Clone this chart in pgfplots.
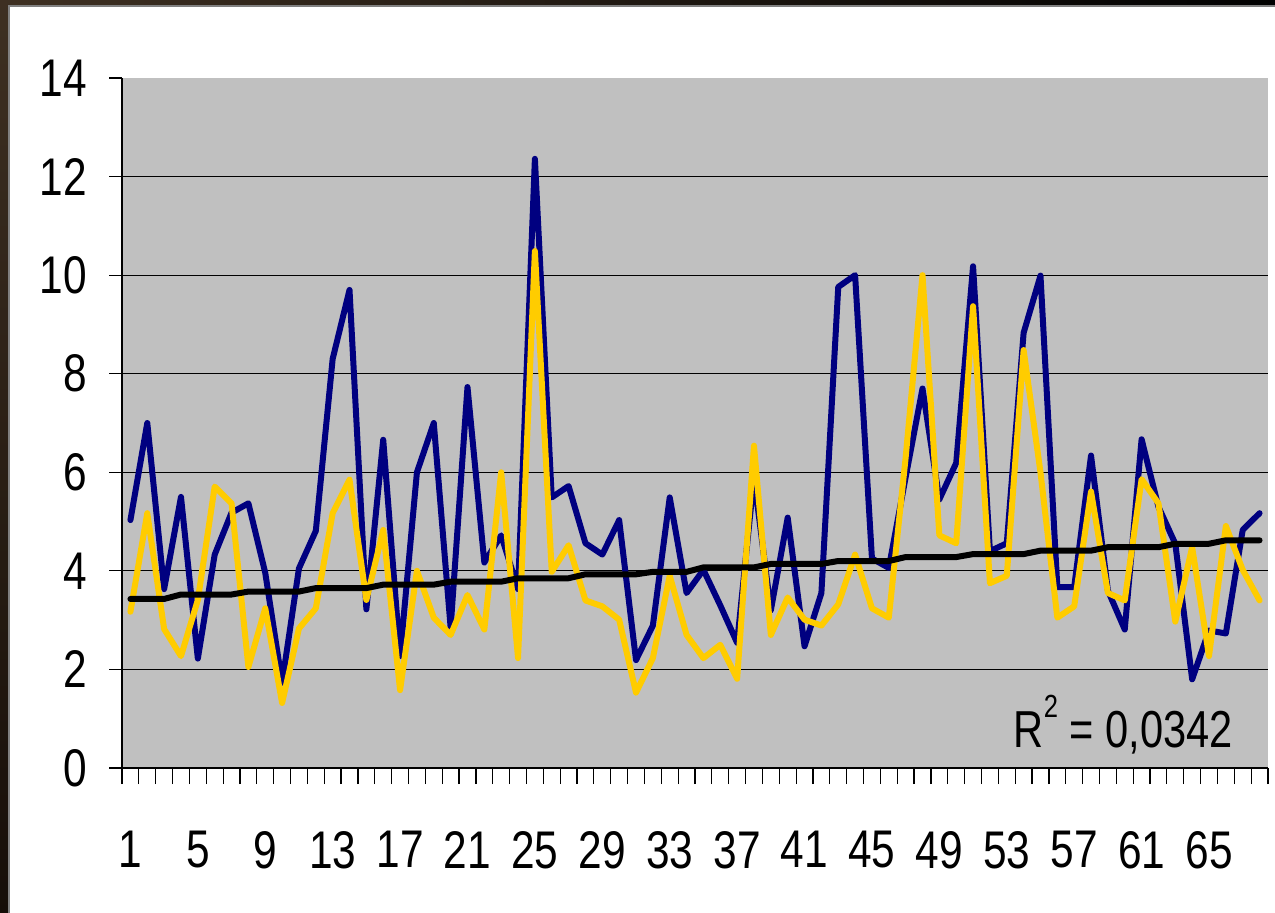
\documentclass[border=0pt]{standalone}
\usepackage{fontspec}
\setmainfont{Liberation Sans}[FakeStretch=0.8]
\usepackage{pgfplots}
\pgfplotsset{compat=1.18}
\usepackage{pgfplotstable}
\definecolor{navyline}{RGB}{0,0,128}
\definecolor{goldline}{RGB}{255,204,0}
\definecolor{plotgray}{RGB}{192,192,192}
\definecolor{framebrown}{RGB}{62,48,34}
\definecolor{framedark}{RGB}{22,14,8}

% x = category, blue / yellow series, stepped trend
\pgfplotstableread{
x blue yellow trend
1 5.03 3.17 3.43
2 7.00 5.17 3.43
3 3.63 2.82 3.43
4 5.50 2.27 3.52
5 2.22 3.41 3.52
6 4.33 5.71 3.52
7 5.18 5.37 3.52
8 5.37 2.05 3.58
9 3.96 3.24 3.58
10 1.73 1.32 3.58
11 4.05 2.83 3.58
12 4.81 3.24 3.65
13 8.30 5.17 3.65
14 9.70 5.85 3.65
15 3.22 3.41 3.65
16 6.66 4.83 3.72
17 2.27 1.58 3.72
18 6.00 4.00 3.72
19 7.00 3.05 3.72
20 2.85 2.70 3.78
21 7.73 3.51 3.78
22 4.17 2.81 3.78
23 4.72 6.00 3.78
24 3.63 2.23 3.85
25 12.36 10.49 3.85
26 5.49 3.98 3.85
27 5.72 4.52 3.85
28 4.56 3.40 3.93
29 4.33 3.28 3.93
30 5.03 3.01 3.93
31 2.19 1.53 3.93
32 2.89 2.23 3.98
33 5.49 3.90 3.98
34 3.55 2.70 3.98
35 4.02 2.23 4.07
36 3.30 2.50 4.07
37 2.54 1.81 4.07
38 5.90 6.54 4.07
39 3.20 2.70 4.14
40 5.08 3.46 4.14
41 2.47 3.01 4.14
42 3.55 2.89 4.14
43 9.76 3.32 4.20
44 10.00 4.33 4.20
45 4.25 3.24 4.20
46 4.06 3.05 4.20
47 5.90 6.30 4.28
48 7.70 10.00 4.28
49 5.45 4.72 4.28
50 6.19 4.56 4.28
51 10.18 9.37 4.34
52 4.40 3.75 4.34
53 4.56 3.90 4.34
54 8.83 8.48 4.34
55 9.99 6.00 4.41
56 3.67 3.05 4.41
57 3.67 3.28 4.41
58 6.34 5.61 4.41
59 3.60 3.55 4.48
60 2.81 3.40 4.48
61 6.67 5.86 4.48
62 5.30 5.37 4.48
63 4.55 2.97 4.55
64 1.80 4.48 4.55
65 2.79 2.27 4.55
66 2.73 4.91 4.62
67 4.83 4.02 4.62
68 5.17 3.40 4.62
}\chartdata

\begin{document}
\begin{tikzpicture}
\path[use as bounding box] (0,0) rectangle (637.5pt,456pt);
\shade[top color=framebrown, bottom color=framedark] (-2pt,-2pt) rectangle (640pt,458pt);
\shade[left color=framebrown, right color=black] (-2pt,452.5pt) rectangle (640pt,458pt);
\fill[white] (4.5pt,-2pt) rectangle (640pt,453pt);
\draw[gray, line width=0.6pt] (4.5pt,-2pt) -- (4.5pt,453pt) -- (640pt,453pt);
\begin{axis}[
  at={(61pt,72pt)}, anchor=south west,
  scale only axis, width=573pt, height=345pt,
  xmin=0.5, xmax=68.5, ymin=0, ymax=14,
  axis x line=bottom, axis y line=left,
  axis line style={-, black, line width=0.6pt},
  axis background/.style={fill=plotgray},
  tick align=outside,
  xtick={1,5,...,65},
  major x tick style={draw=none},
  minor xtick={0.5,1.5,...,68.5},
  minor tick length=8pt,
  minor x tick style={black, line width=0.6pt},
  ytick={0,2,...,12},
  extra y ticks={14},
  extra y tick style={grid=none},
  major tick length=6.5pt,
  major y tick style={black, line width=0.6pt},
  ymajorgrids,
  major grid style={black, line width=0.5pt},
  /pgf/number format/assume math mode=true,
  tick label style={font=\fontsize{26.5}{30}\selectfont},
  xticklabel style={inner sep=0pt, anchor=north, yshift=-25pt},
  yticklabel style={inner sep=0pt, anchor=east, xshift=-11pt},
  clip=false,
]
\addplot[navyline, line width=3pt, line join=round, line cap=round] table[x=x, y=blue] {\chartdata};
\addplot[goldline, line width=3pt, line join=round, line cap=round] table[x=x, y=yellow] {\chartdata};
\addplot[black, line width=3pt, line join=round, line cap=round] table[x=x, y=trend] {\chartdata};
\node[anchor=base east, inner sep=0pt, font=\fontsize{26}{30}\selectfont]
  at (rel axis cs:0.9695,0.0293) {R\raisebox{15pt}{\fontsize{16}{16}\selectfont 2} = 0,0342};
\end{axis}
\end{tikzpicture}
\end{document}
